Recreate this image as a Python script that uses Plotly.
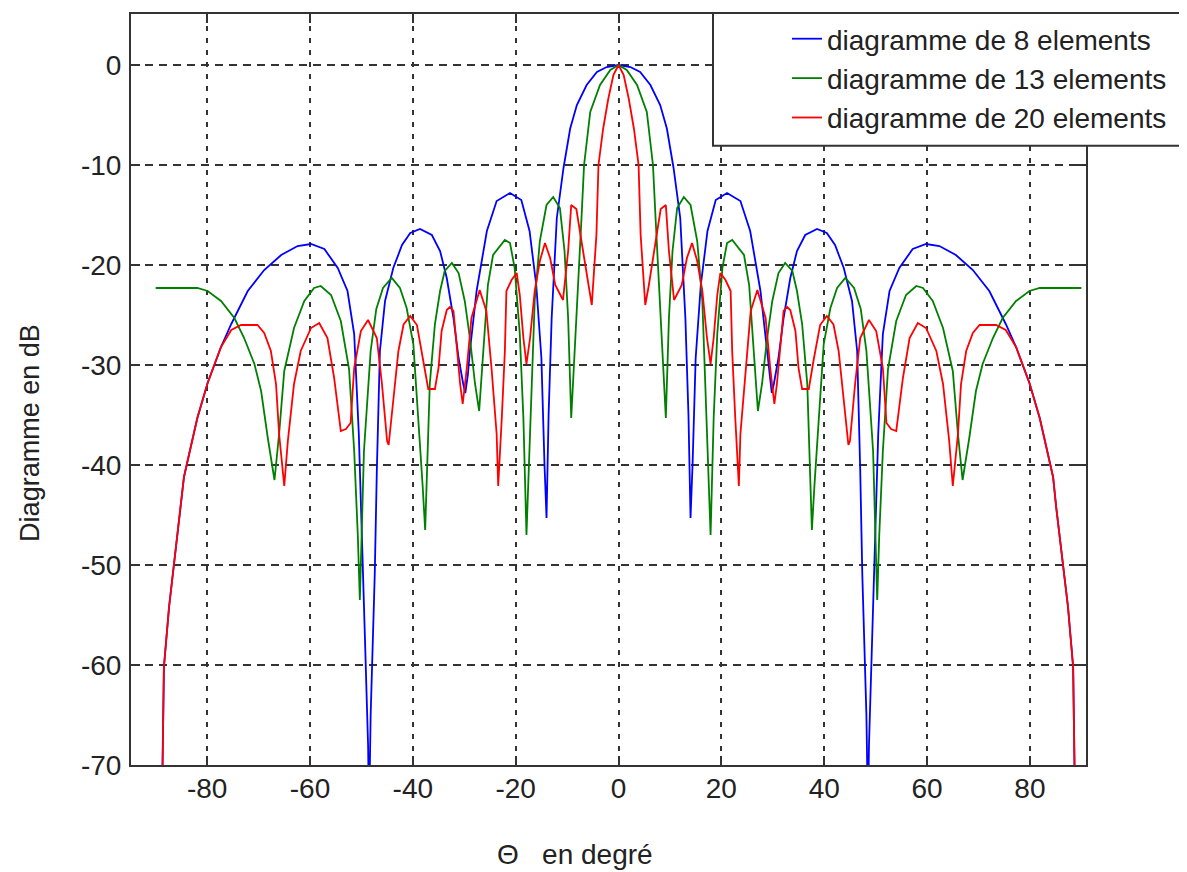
import plotly.graph_objects as go

# ---- data (theta in degrees, pattern in dB) ----
theta_8 = [
    -88.8, -88.4, -87.4, -86.4, -85.1, -84.5, -83.8, -81.9, -79.9, -77.3, -75.3, -72.1, -68.9, -65.6,
    -62.4, -59.8, -57.2, -54.6, -52.7, -51.4, -50.5, -49.8, -49.3, -48.7, -48.5, -48.2, -47.4, -47.0,
    -46.4, -45.4, -43.8, -42.1, -40.5, -38.6, -36.3, -34.7, -33.4, -32.1, -31.1, -30.2, -29.8, -29.3,
    -28.9, -27.6, -25.6, -23.7, -21.1, -18.9, -17.3, -16.0, -15.0, -14.4, -14.0, -13.6, -13.0, -12.0,
    -10.7, -9.4, -8.1, -6.2, -4.2, -2.3, 0.0,
    2.3, 4.2, 6.2, 8.1, 9.4, 10.7, 12.0, 13.0, 13.6, 14.0, 14.4, 15.0, 16.0, 17.3, 18.9, 21.1, 23.7,
    25.6, 27.6, 28.9, 29.3, 29.8, 30.2, 31.1, 32.1, 33.4, 34.7, 36.3, 38.6, 40.5, 42.1, 43.8, 45.4,
    46.4, 47.0, 47.4, 48.2, 48.5, 48.7, 49.3, 49.8, 50.5, 51.4, 52.7, 54.6, 57.2, 59.8, 62.4, 65.6,
    68.9, 72.1, 75.3, 77.3, 79.9, 81.9, 83.8, 84.5, 85.1, 86.4, 87.4, 88.4, 88.8,
]
db_8 = [
    -75, -60.2, -54.2, -49.9, -44.2, -41.2, -39.6, -35.3, -31.8, -28.2, -25.9, -22.6, -20.5, -19.0,
    -18.1, -17.9, -18.4, -20.3, -22.6, -26.9, -36.9, -47.9, -57.5, -68, -75, -65, -50.9, -40.6,
    -28.6, -23.6, -20.3, -18.0, -16.8, -16.4, -17.0, -18.6, -21.3, -25.3, -29.3, -31.9, -32.8, -31.0,
    -28.6, -22.6, -16.6, -13.6, -12.8, -13.5, -16.6, -22.0, -29.3, -39.9, -45.3, -35.0, -25.3, -15.3,
    -10.3, -6.35, -4.0, -2.0, -0.7, -0.2, 0.0,
    -0.2, -0.7, -2.0, -4.0, -6.35, -10.3, -15.3, -25.3, -35.0, -45.3, -39.9, -29.3, -22.0, -16.6, -13.5, -12.8, -13.6,
    -16.6, -22.6, -28.6, -31.0, -32.8, -31.9, -29.3, -25.3, -21.3, -18.6, -17.0, -16.4, -16.8, -18.0, -20.3, -23.6,
    -28.6, -40.6, -50.9, -65, -75, -68, -57.5, -47.9, -36.9, -26.9, -22.6, -20.3, -18.4, -17.9, -18.1, -19.0,
    -20.5, -22.6, -25.9, -28.2, -31.8, -35.3, -39.6, -41.2, -44.2, -49.9, -54.2, -60.2, -75,
]

theta_13 = [
    -90.0, -81.9, -79.9, -77.3, -74.7, -72.8, -70.8, -69.5, -68.2, -66.9, -66.0, -65.0, -63.1, -61.1,
    -59.2, -57.9, -55.9, -54.0, -52.4, -51.4, -50.7, -50.3, -49.9, -49.5, -48.2, -47.1, -45.8, -44.1,
    -42.5, -41.2, -39.9, -38.9, -38.1, -37.6, -37.1, -36.7, -35.7, -34.7, -33.8, -32.4, -31.1, -29.9,
    -28.9, -27.9, -27.1, -26.3, -25.4, -24.4, -22.1, -21.1, -20.2, -19.2, -18.5, -17.9, -17.3, -16.9,
    -16.3, -15.3, -14.0, -12.7, -11.4, -10.5, -9.8, -9.2, -8.6, -8.2, -7.2, -6.7, -5.5, -3.6, -1.6, 0.0,
    1.6, 3.6, 5.5, 6.7, 7.2, 8.2, 8.6, 9.2, 9.8, 10.5, 11.4, 12.7, 14.0, 15.3, 16.3, 16.9, 17.3, 17.9,
    18.5, 19.2, 20.2, 21.1, 22.1, 24.4, 25.4, 26.3, 27.1, 27.9, 28.9, 29.9, 31.1, 32.4, 33.8, 34.7,
    35.7, 36.7, 37.1, 37.6, 38.1, 38.9, 39.9, 41.2, 42.5, 44.1, 45.8, 47.1, 48.2, 49.5, 49.9, 50.3,
    50.7, 51.4, 52.4, 54.0, 55.9, 57.9, 59.2, 61.1, 63.1, 65.0, 66.0, 66.9, 68.2, 69.5, 70.8, 72.8,
    74.7, 77.3, 79.9, 81.9, 90.0,
]
db_13 = [
    -22.3, -22.3, -22.6, -23.6, -25.3, -27.3, -29.9, -32.6, -37.3, -41.5, -36.9, -30.6, -26.3, -23.6,
    -22.3, -22.1, -23.0, -25.6, -30.4, -38.6, -47.0, -53.5, -46.0, -38.6, -28.6, -24.4, -22.3, -21.3,
    -22.3, -24.3, -27.9, -35.3, -42.0, -46.5, -38.0, -31.9, -25.9, -22.6, -20.6, -19.8, -20.8, -23.6,
    -27.3, -31.9, -34.6, -28.6, -22.0, -19.0, -17.5, -17.8, -20.3, -26.9, -35.3, -47.0, -38.0, -31.9,
    -23.6, -17.6, -14.0, -13.2, -14.3, -18.6, -25.3, -35.3, -30.0, -25.3, -15.3, -10.0, -4.7, -2.0, -0.5, 0.0,
    -0.5, -2.0, -4.7, -10.0, -15.3, -25.3, -30.0, -35.3, -25.3, -18.6, -14.3, -13.2, -14.0, -17.6, -23.6, -31.9, -38.0, -47.0,
    -35.3, -26.9, -20.3, -17.8, -17.5, -19.0, -22.0, -28.6, -34.6, -31.9, -27.3, -23.6, -20.8, -19.8, -20.6, -22.6,
    -25.9, -31.9, -38.0, -46.5, -42.0, -35.3, -27.9, -24.3, -22.3, -21.3, -22.3, -24.4, -28.6, -38.6, -46.0, -53.5,
    -47.0, -38.6, -30.4, -25.6, -23.0, -22.1, -22.3, -23.6, -26.3, -30.6, -36.9, -41.5, -37.3, -32.6, -29.9, -27.3,
    -25.3, -23.6, -22.6, -22.3, -22.3,
]

theta_20 = [
    -88.8, -88.4, -87.4, -86.4, -85.1, -84.5, -83.8, -81.9, -79.9, -77.3, -75.3, -73.4, -70.2, -68.9,
    -67.6, -66.6, -66.0, -65.0, -64.3, -63.1, -61.8, -59.8, -58.2, -56.6, -55.3, -54.0, -53.0, -52.1,
    -51.4, -50.8, -50.1, -48.7, -47.0, -46.0, -45.0, -44.7, -43.8, -42.8, -41.8, -40.5, -39.2, -37.9,
    -37.0, -35.7, -35.0, -34.4, -33.4, -32.8, -32.1, -31.5, -30.8, -30.3, -29.5, -28.6, -27.0, -25.7,
    -24.7, -23.7, -23.4, -22.7, -22.1, -21.8, -20.8, -19.8, -19.2, -18.5, -17.9, -17.2, -16.3, -15.3,
    -14.3, -13.3, -12.3, -10.8, -9.8, -9.2, -8.2, -6.9, -5.9, -5.2, -4.3, -3.9, -3.0, -2.0, -1.0, 0.0,
    1.0, 2.0, 3.0, 3.9, 4.3, 5.2, 5.9, 6.9, 8.2, 9.2, 9.8, 10.8, 12.3, 13.3, 14.3, 15.3, 16.3, 17.2,
    17.9, 18.5, 19.2, 19.8, 20.8, 21.8, 22.1, 22.7, 23.4, 23.7, 24.7, 25.7, 27.0, 28.6, 29.5, 30.3,
    30.8, 31.5, 32.1, 32.8, 33.4, 34.4, 35.0, 35.7, 37.0, 37.9, 39.2, 40.5, 41.8, 42.8, 43.8, 44.7,
    45.0, 46.0, 47.0, 48.7, 50.1, 50.8, 51.4, 52.1, 53.0, 54.0, 55.3, 56.6, 58.2, 59.8, 61.8, 63.1,
    64.3, 65.0, 66.0, 66.6, 67.6, 68.9, 70.2, 73.4, 75.3, 77.3, 79.9, 81.9, 83.8, 84.5, 85.1, 86.4,
    87.4, 88.4, 88.8,
]
db_20 = [
    -75, -60.2, -54.2, -49.9, -44.2, -41.2, -39.6, -35.3, -31.8, -28.2, -26.5, -26.0, -26.0, -26.8,
    -28.6, -31.9, -36.9, -42.1, -37.6, -31.9, -28.6, -26.3, -25.8, -27.3, -31.3, -36.6, -36.4, -35.8,
    -30.3, -28.6, -26.6, -25.5, -27.3, -31.9, -37.6, -38.0, -33.6, -28.6, -25.95, -25.1, -26.0, -29.6,
    -32.4, -32.4, -30.3, -26.6, -24.5, -24.2, -24.6, -27.9, -31.9, -33.9, -30.3, -25.3, -22.5, -24.6,
    -30.3, -36.9, -42.1, -35.3, -28.6, -22.6, -21.5, -20.8, -23.0, -27.3, -29.9, -27.3, -22.6, -19.6,
    -17.8, -19.3, -22.0, -23.5, -18.6, -14.0, -14.4, -18.6, -22.0, -24.0, -17.0, -10.0, -6.4, -3.4, -1.0, 0.0,
    -1.0, -3.4, -6.4, -10.0, -17.0, -24.0, -22.0, -18.6, -14.4, -14.0, -18.6, -23.5, -22.0, -19.3, -17.8, -19.6, -22.6, -27.3,
    -29.9, -27.3, -23.0, -20.8, -21.5, -22.6, -28.6, -35.3, -42.1, -36.9, -30.3, -24.6, -22.5, -25.3, -30.3, -33.9,
    -31.9, -27.9, -24.6, -24.2, -24.5, -26.6, -30.3, -32.4, -32.4, -29.6, -26.0, -25.1, -25.95, -28.6, -33.6, -38.0,
    -37.6, -31.9, -27.3, -25.5, -26.6, -28.6, -30.3, -35.8, -36.4, -36.6, -31.3, -27.3, -25.8, -26.3, -28.6, -31.9,
    -37.6, -42.1, -36.9, -31.9, -28.6, -26.8, -26.0, -26.0, -26.5, -28.2, -31.8, -35.3, -39.6, -41.2, -44.2, -49.9,
    -54.2, -60.2, -75,
]

series_names = ["diagramme de 8 elements", "diagramme de 13 elements", "diagramme de 20 elements"]
series_colors = ["#0000ff", "#008000", "#ff0000"]

x_tickvals = [-80, -60, -40, -20, 0, 20, 40, 60, 80]
x_ticktext = ["-80", "-60", "-40", "-20", "0", "20", "40", "60", "80"]
y_tickvals = [-70, -60, -50, -40, -30, -20, -10, 0]
y_ticktext = ["-70", "-60", "-50", "-40", "-30", "-20", "-10", "0"]

x_title = "\u0398\u00a0\u00a0 en degré"
y_title = "Diagramme en dB"

FONT = "Liberation Sans, Arial, sans-serif"

fig = go.Figure()
for xs, ys, name, col in zip([theta_8, theta_13, theta_20], [db_8, db_13, db_20],
                             series_names, series_colors):
    fig.add_trace(go.Scatter(x=xs, y=ys, mode="lines", name=name,
                             line=dict(color=col, width=1.8)))

# the page adds an 8px body margin, so the figure is offset by 8px on screen
OFF = 8
W, H = 1179, 864
# target plot box in screen pixels: x 131..1086, y 12..765
L = 131 - OFF
R = W - (1086 - OFF)
T = 12 - OFF
B = H - (765 - OFF)
pw, ph = W - L - R, H - T - B

def px_x(p):  # screen px -> paper x
    return (p - OFF - L) / pw

def px_y(p):  # screen px -> paper y
    return (H - B - (p - OFF)) / ph

axis_common = dict(
    showline=True, linecolor="#333333", linewidth=2, mirror="ticks",
    ticks="inside", ticklen=9, tickwidth=1.5, tickcolor="#333333",
    showgrid=True, gridcolor="#333333", gridwidth=1.5,
    zeroline=False, tickfont=dict(family=FONT, size=28, color="#222222"),
)

fig.update_layout(
    width=W, height=H, autosize=False,
    margin=dict(l=L, r=R, t=T, b=B, pad=0),
    paper_bgcolor="white", plot_bgcolor="white",
    font=dict(family=FONT, color="#222222"),
    xaxis=dict(range=[-94.8, 90.9], tickmode="array", tickvals=x_tickvals, ticktext=x_ticktext,
               griddash="5px,7px", ticklabelstandoff=-3, **axis_common),
    yaxis=dict(range=[-70, 5.1], tickmode="array", tickvals=y_tickvals, ticktext=y_ticktext,
               griddash="8px,6px", ticklabelstandoff=2, **axis_common),
    showlegend=True,
    legend=dict(x=px_x(787), y=px_y(12), xanchor="left", yanchor="top",
                bgcolor="rgba(0,0,0,0)", borderwidth=0,
                font=dict(family=FONT, size=28, color="#222222"), itemwidth=30),
    shapes=[dict(type="rect", xref="paper", yref="paper",
                 x0=px_x(713), x1=px_x(1185), y0=px_y(144), y1=px_y(11),
                 fillcolor="white", line=dict(color="#333333", width=2), layer="above")],
    annotations=[
        dict(text=x_title, xref="paper", yref="paper", x=px_x(575), y=px_y(855),
             xanchor="center", yanchor="middle", showarrow=False,
             font=dict(family=FONT, size=28, color="#222222")),
        dict(text=y_title, xref="paper", yref="paper", x=px_x(30), y=px_y(432),
             xanchor="center", yanchor="middle", showarrow=False, textangle=-90,
             font=dict(family=FONT, size=27, color="#222222")),
    ],
)

fig.write_html("out.html")
